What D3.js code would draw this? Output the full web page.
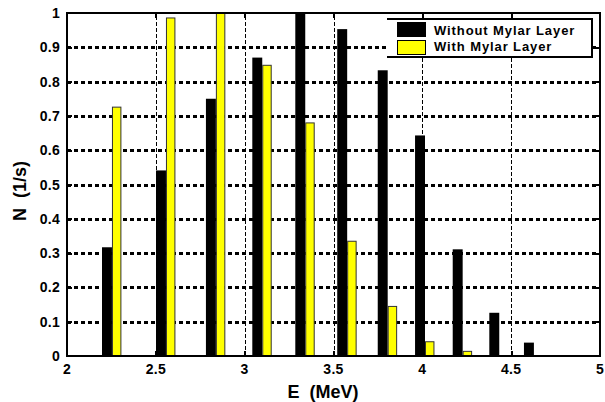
<!DOCTYPE html>
<html>
<head>
<meta charset="utf-8">
<script src="https://cdn.jsdelivr.net/npm/d3@7"></script>
<style>
  body { margin: 0; background: #fff; }
  svg text { font-family: "Liberation Sans", Arial, sans-serif; font-weight: bold; fill: #000; }
</style>
</head>
<body>
<div id="chart"></div>
<script>
// bin energies (MeV) and counting rates
const energies = [2.253, 2.557, 2.838, 3.099, 3.341, 3.577, 3.805, 4.015, 4.227, 4.433, 4.628];
const withoutMylar = [0.317, 0.541, 0.75, 0.87, 1.0, 0.953, 0.833, 0.643, 0.311, 0.126, 0.039];
const withMylar = [0.727, 0.987, 1.0, 0.849, 0.681, 0.336, 0.146, 0.043, 0.015, 0, 0];
const seriesNames = ["Without Mylar Layer", "With Mylar Layer"];
const xTicks = [2, 2.5, 3, 3.5, 4, 4.5, 5];
const xTickLabels = ["2", "2.5", "3", "3.5", "4", "4.5", "5"];
const yTicks = [0, 0.1, 0.2, 0.3, 0.4, 0.5, 0.6, 0.7, 0.8, 0.9, 1];
const yTickLabels = ["0", "0.1", "0.2", "0.3", "0.4", "0.5", "0.6", "0.7", "0.8", "0.9", "1"];

const W = 605, H = 402;
const margin = { top: 13, right: 5, bottom: 46, left: 67 };
const width = W - margin.left - margin.right,
  height = H - margin.top - margin.bottom;

const svg = d3.select("#chart")
  .append("svg")
  .attr("width", W)
  .attr("height", H);

const g = svg.append("g")
  .attr("transform", `translate(${margin.left},${margin.top})`);

const x = d3.scaleLinear().domain([2, 5]).range([0, width]);
const y = d3.scaleLinear().domain([0, 1]).range([height, 0]);
const barW = 0.056; // bar width in MeV

// horizontal grid (thick dashes)
g.append("g")
  .attr("class", "hgrid")
  .call(d3.axisLeft(y).tickValues(yTicks.slice(1, -1)).tickSize(-width).tickFormat(""))
  .call(a => a.select(".domain").remove())
  .selectAll("line")
  .attr("stroke", "#000")
  .attr("stroke-width", 3)
  .attr("shape-rendering", "crispEdges")
  .attr("stroke-dasharray", "4,3");

// vertical grid (thin dashes)
g.append("g")
  .attr("class", "vgrid")
  .attr("transform", `translate(0,${height})`)
  .call(d3.axisBottom(x).tickValues(xTicks.slice(1, -1)).tickSize(-height).tickFormat(""))
  .call(a => a.select(".domain").remove())
  .selectAll("line")
  .attr("stroke", "#000")
  .attr("stroke-width", 1)
  .attr("shape-rendering", "crispEdges")
  .attr("stroke-dasharray", "4,2");

// bars
g.append("g").selectAll("rect")
  .data(energies)
  .join("rect")
  .attr("x", d => x(d - barW))
  .attr("y", (d, i) => y(withoutMylar[i]))
  .attr("width", x(2 + barW) - x(2))
  .attr("height", (d, i) => height - y(withoutMylar[i]))
  .attr("fill", "#000");

g.append("g").selectAll("rect")
  .data(energies.filter((d, i) => withMylar[i] > 0))
  .join("rect")
  .attr("x", d => x(d) + 0.5)
  .attr("y", (d, i) => y(withMylar[i]) + 0.5)
  .attr("width", x(2 + barW) - x(2) - 1.5)
  .attr("height", (d, i) => height - y(withMylar[i]) - 0.5)
  .attr("fill", "#ffff00")
  .attr("stroke", "#333")
  .attr("stroke-width", 1);

// inward ticks on all four sides
const tl = 5;
function styleTicks(a) {
  a.select(".domain").remove();
  a.selectAll("line").attr("stroke", "#000").attr("stroke-width", 2)
    .attr("shape-rendering", "crispEdges");
}
g.append("g")
  .call(d3.axisLeft(y).tickValues(yTicks.slice(1, -1)).tickSize(-tl).tickFormat(""))
  .call(styleTicks);
g.append("g")
  .attr("transform", `translate(${width},0)`)
  .call(d3.axisRight(y).tickValues(yTicks.slice(1, -1)).tickSize(-tl).tickFormat(""))
  .call(styleTicks);
g.append("g")
  .attr("transform", `translate(0,${height})`)
  .call(d3.axisBottom(x).tickValues(xTicks.slice(1, -1)).tickSize(-tl).tickFormat(""))
  .call(styleTicks);
g.append("g")
  .call(d3.axisTop(x).tickValues(xTicks.slice(1, -1)).tickSize(-tl).tickFormat(""))
  .call(styleTicks);

// frame
g.append("rect")
  .attr("x", 0).attr("y", 0)
  .attr("width", width).attr("height", height)
  .attr("fill", "none")
  .attr("stroke", "#000")
  .attr("stroke-width", 2);

// tick labels
g.append("g").selectAll("text")
  .data(yTicks)
  .join("text")
  .attr("x", -7)
  .attr("y", d => y(d) + 5)
  .attr("text-anchor", "end")
  .style("font-size", "14px")
  .style("letter-spacing", "0.3px")
  .text((d, i) => yTickLabels[i]);

g.append("g").selectAll("text")
  .data(xTicks)
  .join("text")
  .attr("x", d => x(d))
  .attr("y", height + 18)
  .attr("text-anchor", "middle")
  .style("font-size", "14px")
  .style("letter-spacing", "0.3px")
  .text((d, i) => xTickLabels[i]);

// axis titles
svg.append("text")
  .attr("x", 323)
  .attr("y", 398)
  .attr("text-anchor", "middle")
  .style("font-size", "18px")
  .style("white-space", "pre")
  .text("E  (MeV)");

svg.append("text")
  .attr("transform", "translate(26,191) rotate(-90)")
  .attr("text-anchor", "middle")
  .style("font-size", "18px")
  .style("white-space", "pre")
  .text("N  (1/s)");

// legend
const leg = svg.append("g").attr("transform", "translate(387,19)");
leg.append("rect")
  .attr("x", 0).attr("y", 0).attr("width", 205).attr("height", 38)
  .attr("fill", "#fff");
leg.append("path")
  .attr("d", "M0,0H205V38H0")
  .attr("fill", "none")
  .attr("stroke", "#000")
  .attr("stroke-width", 2);
const colors = ["#000", "#ffff00"];
seriesNames.forEach((name, i) => {
  leg.append("rect")
    .attr("x", 10.5).attr("y", 3.5 + i * 18)
    .attr("width", 28).attr("height", 14)
    .attr("fill", colors[i])
    .attr("stroke", "#000")
    .attr("stroke-width", 1);
  leg.append("text")
    .attr("x", 47)
    .attr("y", 15.5 + i * 16)
    .style("font-size", "13px")
    .style("letter-spacing", "0.9px")
    .text(name);
});
</script>
</body>
</html>
